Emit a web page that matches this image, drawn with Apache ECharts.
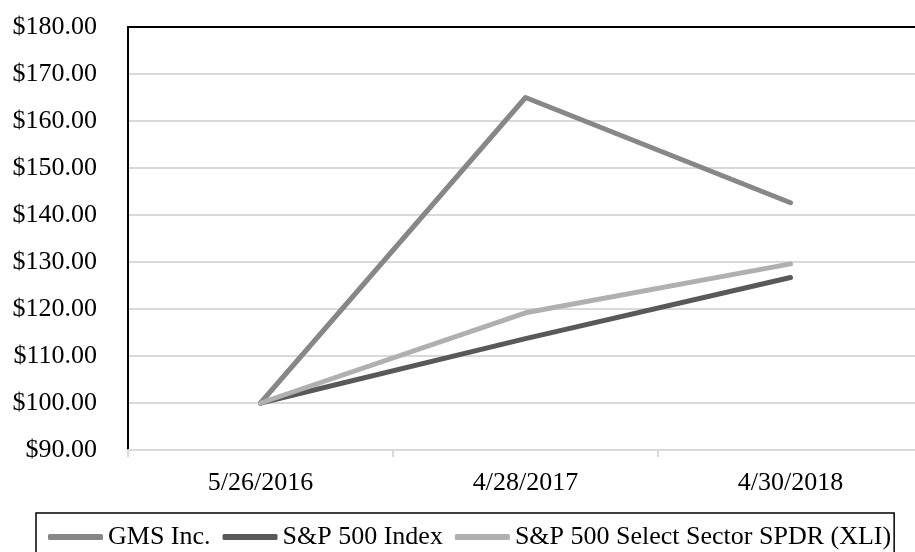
<!DOCTYPE html>
<html>
<head>
<meta charset="utf-8">
<script src="https://cdn.jsdelivr.net/npm/echarts@6/dist/echarts.min.js"></script>
<style>
  html, body { margin: 0; padding: 0; background: #fff; overflow: hidden; }
  /* wider than the window: the plot's right edge runs off the picture */
  #chart { width: 930px; height: 552px; }
</style>
</head>
<body>
<div id="chart"></div>
<script>
// cumulative total return, $100 invested
const dates = ['5/26/2016', '4/28/2017', '4/30/2018'];
const gms = [100, 165.0, 142.6];
const sp500 = [100, 113.7, 126.7];
const xli = [100, 119.2, 129.6];

const font = 'Liberation Serif';
const seriesNames = ['GMS Inc.', 'S&P 500 Index', 'S&P 500 Select Sector SPDR (XLI)'];
const colors = ['#878787', '#595959', '#b0b0b0'];

const chart = echarts.init(document.getElementById('chart'));

function lineSeries(name, data, color) {
    return {
        name: name,
        type: 'line',
        data: data,
        showSymbol: false,
        symbol: 'none',
        lineStyle: { color: color, width: 5, cap: 'round', join: 'round' },
        itemStyle: { color: color },
        animation: false
    };
}

chart.setOption({
    backgroundColor: '#fff',
    textStyle: { fontFamily: font },
    grid: { left: 128, width: 795, top: 27, bottom: 102 },
    xAxis: [
        {
            type: 'category',
            data: dates,
            boundaryGap: true,
            axisLine: { lineStyle: { color: '#d9d9d9', width: 2 } },
            axisTick: { show: true, length: 7, lineStyle: { color: '#d9d9d9', width: 2 } },
            axisLabel: { color: '#000', fontSize: 26, fontFamily: font, margin: 20 }
        },
        {
            // top edge of the plot frame
            type: 'category',
            data: dates,
            position: 'top',
            axisLine: { lineStyle: { color: '#000', width: 2 } },
            axisTick: { show: false },
            axisLabel: { show: false }
        }
    ],
    yAxis: {
        type: 'value',
        min: 90,
        max: 180,
        interval: 10,
        axisLine: { show: true, lineStyle: { color: '#000', width: 2 } },
        axisTick: { show: false },
        splitLine: { lineStyle: { color: '#d9d9d9', width: 2 } },
        axisLabel: {
            color: '#000',
            fontSize: 26,
            fontFamily: font,
            margin: 31,
            formatter: v => '$' + v.toFixed(2)
        }
    },
    legend: {
        data: seriesNames.map(n => ({ name: n, icon: 'roundRect' })),
        left: 36,
        top: 513,
        itemWidth: 55,
        itemHeight: 6,
        itemGap: 12,
        padding: [11, 3, 30, 12],
        borderColor: '#000',
        borderWidth: 1.5,
        textStyle: { color: '#000', fontSize: 26, fontFamily: font }
    },
    series: [
        lineSeries(seriesNames[0], gms, colors[0]),
        lineSeries(seriesNames[1], sp500, colors[1]),
        lineSeries(seriesNames[2], xli, colors[2])
    ]
});
</script>
</body>
</html>
